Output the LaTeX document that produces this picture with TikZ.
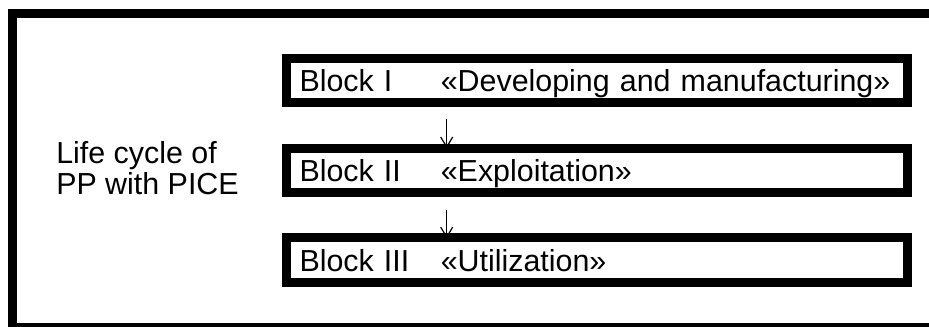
\documentclass[tikz,border=0pt]{standalone}
\usepackage{fontspec}
\setmainfont{Liberation Sans}
\usetikzlibrary{arrows.meta}
\begin{document}
\begin{tikzpicture}[x=0.75pt,y=-0.75pt,
  blockbox/.style={draw, line width=6.75pt, minimum width=465.75pt, minimum height=33.3pt,
    inner xsep=9.75pt, inner ysep=0pt, text width=446.25pt, align=left,
    text height=17pt, text depth=0pt, font=\fontsize{22.8pt}{24pt}\selectfont},
  flow/.style={-{Straight Barb[length=7.5pt,width=9pt,line width=0.9pt]}, line width=0.9pt},
  labeltext/.style={inner sep=0pt, align=left, font=\fontsize{22.8pt}{23.8pt}\selectfont}]
\useasboundingbox (0,0) rectangle (929,327);
\begin{scope}
  \clip (0,0) rectangle (929,327);
  \draw[line width=6.75pt] (990,13.5) -- (12.5,13.5) -- (12.5,327.5) -- (990,327.5);
\end{scope}
\node[blockbox] (b1) at (597,80.65) {\makebox[106pt][l]{Block I}«Developing and manufacturing»};
\node[blockbox] (b2) at (597,170.35) {\makebox[106pt][l]{Block II}«Exploitation»};
\node[blockbox] (b3) at (597,260) {\makebox[106pt][l]{Block III}«Utilization»};
\node[labeltext, anchor=base west] (lbl) at (56,195) {Life cycle of\\PP with PICE};
\coordinate (ax) at (446.7,0);
\draw[flow, shorten <=9pt, shorten >=-3.4pt] (b1.south -| ax) -- (b2.north -| ax);
\draw[flow, shorten <=9.6pt, shorten >=-3.75pt] (b2.south -| ax) -- (b3.north -| ax);
\end{tikzpicture}
\end{document}
